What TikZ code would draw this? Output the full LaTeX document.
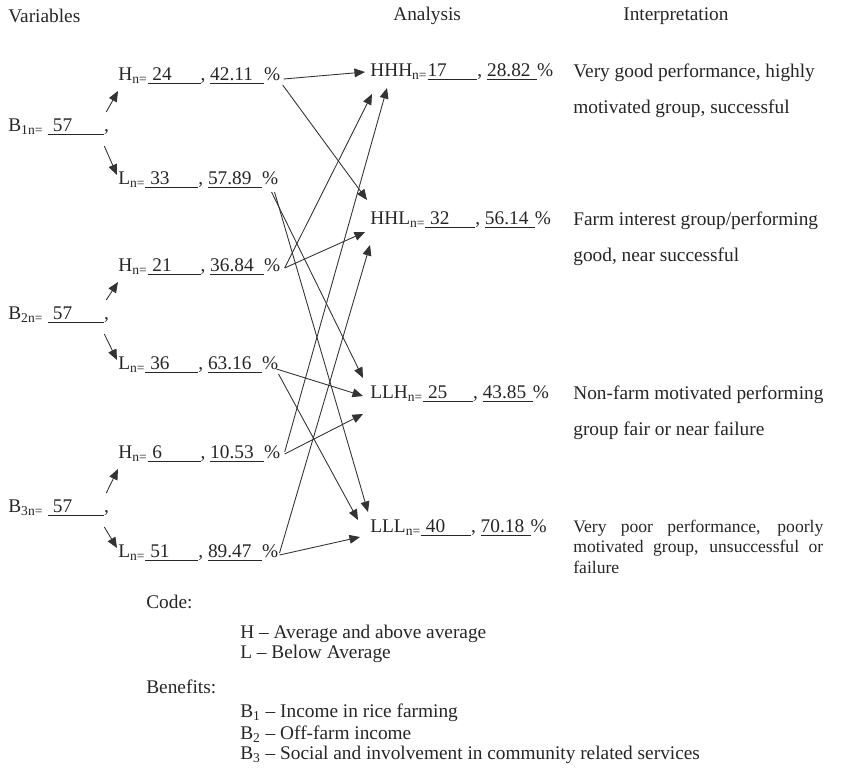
\documentclass[tikz,border=0pt]{standalone}
\usepackage{fontspec}
\setmainfont{Liberation Serif}
\usetikzlibrary{arrows.meta}
\newcommand{\cnt}[2]{\underline{\makebox[#1][l]{\ #2}}}
\newcommand{\pct}[2]{\underline{\makebox[#1][l]{#2}}}
\begin{document}
\begin{tikzpicture}[x=0.02cm, y=-0.02cm, font=\fontsize{11}{13}\selectfont, color=black!85,
  lbl/.style={anchor=west, inner sep=0pt},
  arr/.style={-{Triangle[length=6pt,width=5pt]}, black!80, line width=0.5pt},
  interp/.style={anchor=north west, inner sep=0pt, align=left, font=\fontsize{11}{20.5}\selectfont}]
\useasboundingbox (0,0) rectangle (868,767);
\node[lbl] (var) at (8,16) {Variables};
\node[lbl] (ana) at (393,16) {Analysis};
\node[lbl] (int) at (623,16) {Interpretation};
\node[lbl] (b1) at (8,127) {B\textsubscript{1n=} \cnt{1.12cm}{57},};
\node[lbl] (h1) at (118,76) {H\textsubscript{n=}\cnt{1.06cm}{24}, \pct{1.08cm}{42.11}\%};
\node[lbl] (l1) at (118,180) {L\textsubscript{n=}\cnt{1.06cm}{33}, \pct{1.08cm}{57.89}\%};
\node[lbl] (b2) at (8,315) {B\textsubscript{2n=} \cnt{1.12cm}{57},};
\node[lbl] (h2) at (118,267) {H\textsubscript{n=}\cnt{1.06cm}{21}, \pct{1.08cm}{36.84}\%};
\node[lbl] (l2) at (118,365) {L\textsubscript{n=}\cnt{1.06cm}{36}, \pct{1.08cm}{63.16}\%};
\node[lbl] (b3) at (8,508) {B\textsubscript{3n=} \cnt{1.12cm}{57},};
\node[lbl] (h3) at (118,454) {H\textsubscript{n=}\cnt{1.06cm}{6}, \pct{1.08cm}{10.53}\%};
\node[lbl] (l3) at (118,553) {L\textsubscript{n=}\cnt{1.06cm}{51}, \pct{1.08cm}{89.47}\%};
\node[lbl] (hhh) at (370,72) {HHH\textsubscript{n=}\pct{1.0cm}{17}, \pct{1.0cm}{28.82}\%};
\node[lbl] (hhl) at (370,220) {HHL\textsubscript{n=}\cnt{1.0cm}{32}, \pct{1.0cm}{56.14}\%};
\node[lbl] (llh) at (370,394) {LLH\textsubscript{n=}\cnt{1.0cm}{25}, \pct{1.0cm}{43.85}\%};
\node[lbl] (lll) at (370,528) {LLL\textsubscript{n=}\cnt{1.0cm}{40}, \pct{1.0cm}{70.18}\%};
\node[interp] (ihhh) at (573,64) {Very good performance, highly\\motivated group, successful};
\node[interp] (ihhl) at (573,212) {Farm interest group/performing\\good, near successful};
\node[interp] (illh) at (573,386) {Non-farm motivated performing\\group fair or near failure};
\node[interp, text width=5.0cm, align=justify, font=\fontsize{10}{11.5}\selectfont] (illl) at (573,520)
  {Very poor performance, poorly\linebreak motivated group, unsuccessful or\linebreak failure};
\foreach \i in {1,2,3} {
  \draw[arr] ([shift={(-3,-15)}]b\i.east) -- ([shift={(0,15)}]h\i.west);
  \draw[arr] ([shift={(-5,19)}]b\i.east) -- ([shift={(-1,-5)}]l\i.west);
}
\draw[arr] ([shift={(3,3)}]h1.east) -- ([shift={(-5,0)}]hhh.west);
\draw[arr] ([shift={(2,9)}]h1.east) -- ([shift={(-3,-20)}]hhl.west);
\draw[arr] ([shift={(-7,12)}]l1.east) -- ([shift={(-7,-16)}]llh.west);
\draw[arr] ([shift={(-4,12)}]l1.east) -- ([shift={(-2,-16)}]lll.west);
\draw[arr] ([shift={(4,1)}]h2.east) -- ([shift={(2,22)}]hhh.west);
\draw[arr] ([shift={(4,1)}]h2.east) -- ([shift={(-5,12)}]hhl.west);
\draw[arr] ([shift={(-2,4)}]l2.east) -- ([shift={(-7,2)}]llh.west);
\draw[arr] ([shift={(0,9)}]l2.east) -- ([shift={(-12,-8)}]lll.west);
\draw[arr] ([shift={(4,-2)}]h3.east) -- ([shift={(17,16)}]hhh.west);
\draw[arr] ([shift={(4,0)}]h3.east) -- ([shift={(-7,20)}]llh.west);
\draw[arr] ([shift={(1,0)}]l3.east) -- ([shift={(0,25)}]hhl.west);
\draw[arr] ([shift={(1,2)}]l3.east) -- ([shift={(-10,9)}]lll.west);
\node[lbl] (code) at (146,602) {Code:};
\node[lbl] (ch) at (240,634) {H -- Average and above average};
\node[lbl] (cl) at (240,654) {L -- Below Average};
\node[lbl] (ben) at (146,687) {Benefits:};
\node[lbl] (be1) at (240,713) {B\textsubscript{1} -- Income in rice farming};
\node[lbl] (be2) at (240,734) {B\textsubscript{2} -- Off-farm income};
\node[lbl] (be3) at (240,755) {B\textsubscript{3} -- Social and involvement in community related services};
\end{tikzpicture}
\end{document}
